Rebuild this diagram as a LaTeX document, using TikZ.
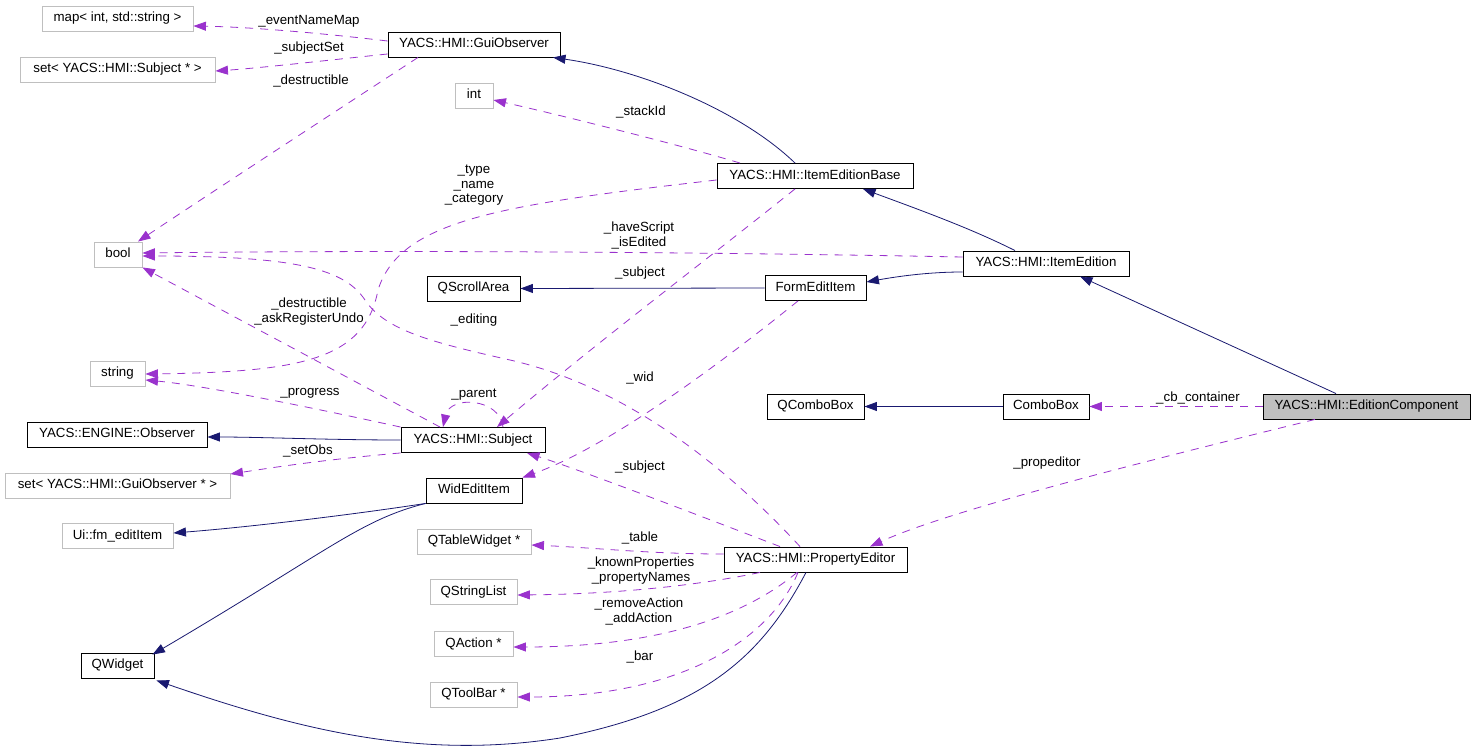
\documentclass[tikz,border=0pt]{standalone}
\usepackage{fontspec}
\setmainfont{Liberation Sans}
\usetikzlibrary{arrows.meta,calc}
\definecolor{inhc}{HTML}{191970}
\definecolor{depc}{HTML}{9A32CD}
\definecolor{grayb}{HTML}{BFBFBF}
\definecolor{fillc}{HTML}{BFBFBF}
\begin{document}
\begin{tikzpicture}[x=1pt,y=-1pt,
  every node/.style={font=\fontsize{13.3}{14.5}\selectfont, inner sep=0pt},
  cls/.style={draw=black, line width=0.9pt, minimum height=25pt, text height=9.5pt, text depth=2.8pt, align=center},
  ext/.style={cls, draw=grayb},
  lbl/.style={align=center},
  inh/.style={draw=inhc, line width=0.8pt, -{Triangle[length=12.5pt,width=9pt]}},
  dep/.style={draw=depc, line width=0.8pt, dash pattern=on 8pt off 7pt, -{Triangle[length=12.5pt,width=9pt]}}]
\useasboundingbox (0,0) rectangle (1475,751);
\fill[white] (0,0) rectangle (1475,751);

% nodes
\node[ext, minimum width=151pt] (map) at (117.5,18.5) {map< int, std::string >};
\node[ext, minimum width=195pt] (setS) at (117.5,69.5) {set< YACS::HMI::Subject * >};
\node[cls, minimum width=172pt] (gui) at (474,44.5) {YACS::HMI::GuiObserver};
\node[ext, minimum width=38pt] (int) at (474,95.5) {int};
\node[ext, minimum width=48pt] (bool) at (118,254.5) {bool};
\node[cls, minimum width=196pt] (ieb) at (815,176) {YACS::HMI::ItemEditionBase};
\node[cls, minimum width=166pt] (ie) at (1046,263.5) {YACS::HMI::ItemEdition};
\node[cls, minimum width=93pt] (qsa) at (473.5,288.5) {QScrollArea};
\node[cls, minimum width=101pt] (fei) at (815.5,288) {FormEditItem};
\node[ext, minimum width=55pt] (str) at (117.5,373.5) {string};
\node[cls, minimum width=180pt] (obs) at (117,434.5) {YACS::ENGINE::Observer};
\node[cls, minimum width=144pt] (subj) at (473,440) {YACS::HMI::Subject};
\node[ext, minimum width=225pt] (setG) at (117.5,485.5) {set< YACS::HMI::GuiObserver * >};
\node[cls, minimum width=96pt] (wid) at (474,490.5) {WidEditItem};
\node[cls, minimum width=97pt] (qcb) at (815.5,406.5) {QComboBox};
\node[cls, minimum width=86pt] (cb) at (1046,406.5) {ComboBox};
\node[cls, fill=fillc, minimum width=207pt] (ec) at (1366.5,406.5) {YACS::HMI::EditionComponent};
\node[ext, minimum width=111pt] (fm) at (117.5,536) {Ui::fm\_editItem};
\node[ext, minimum width=114pt] (qtw) at (474,541.5) {QTableWidget *};
\node[cls, minimum width=183pt] (pe) at (815.5,559.5) {YACS::HMI::PropertyEditor};
\node[ext, minimum width=87pt] (qsl) at (473.5,592) {QStringList};
\node[ext, minimum width=79pt] (qa) at (473.5,644) {QAction *};
\node[cls, minimum width=73pt] (qw) at (117.5,665.5) {QWidget};
\node[ext, minimum width=87pt] (qtb) at (473.5,694.5) {QToolBar *};

% connectors
\draw[dep] ($(gui.west)+(0,-3.5)$) .. controls (320,33) and (250,27) .. ($(map.east)+(0,7.5)$);
\draw[dep] ($(gui.west)+(0,9.5)$) .. controls (330,60) and (260,68) .. ($(setS.east)+(0,1.5)$);
\draw[dep] ($(gui.south)+(-56,0)$) .. controls (330,115) and (200,200) .. ($(bool.north)+(20,0)$);
\draw[inh] ($(ieb.north)+(-20,0)$) .. controls (740,110) and (640,70) .. ($(gui.south)+(79,0)$);
\draw[dep] ($(ieb.north)+(-75,0)$) .. controls (680,145) and (560,115) .. ($(int.east)+(0,4.5)$);
\draw[dep] ($(ieb.west)+(0,4)$) .. controls (500,205) and (400,220) .. (378,290) .. controls (365,360) and (300,372) .. ($(str.east)+(0,0.5)$);
\draw[inh] ($(ie.north)+(-31,0)$) .. controls (970,228) and (920,210) .. ($(ieb.south)+(48,0)$);
\draw[dep] ($(ie.west)+(0,-6.5)$) .. controls (700,252) and (400,250) .. ($(bool.east)+(0,-1.5)$);
\draw[inh] ($(ie.west)+(0,8.5)$) .. controls (930,272) and (900,276) .. ($(fei.east)+(0,-6)$);
\draw[inh] (fei.west) -- (qsa.east);
\draw[dep] ($(fei.south)+(-17.5,0)$) .. controls (700,380) and (600,450) .. (wid.north east);
\draw[dep] ($(ieb.south)+(-20,0)$) .. controls (700,265) and (600,340) .. ($(subj.north)+(24,0)$);
\draw[dep] ($(subj.north)+(-33,0)$) -- (bool.south east);
\draw[dep] ($(subj.north)+(30,0)$) .. controls (500,398) and (450,395) .. ($(subj.north)+(-30,0)$);
\draw[dep] (subj.north west) .. controls (300,405) and (200,385) .. ($(str.east)+(0,6.5)$);
\draw[inh] (subj.west) .. controls (330,440) and (260,437) .. ($(obs.east)+(0,2.5)$);
\draw[dep] (subj.south west) .. controls (320,460) and (270,468) .. ($(setG.east)+(0,-11.5)$);
\draw[inh] (wid.south west) .. controls (350,515) and (250,527) .. ($(fm.east)+(0,-3)$);
\draw[inh] (wid.south west) .. controls (360,520) and (330,550) .. ($(qw.north east)+(-2,2)$);
\draw[inh] ($(pe.south)+(-9.5,0)$) .. controls (760,660) and (700,710) .. (560,738) .. controls (420,760) and (300,730) .. ($(qw.south east)+(2,2)$);
\draw[dep] ($(pe.north)+(-35.5,0)$) .. controls (690,512) and (580,470) .. ($(subj.south)+(54,0)$);
\draw[dep] ($(pe.north)+(-15.5,0)$) .. controls (720,460) and (620,385) .. (510,360) .. controls (430,342) and (385,330) .. (365,300) .. controls (345,270) and (300,256) .. ($(bool.east)+(0,1.5)$);
\draw[dep] ($(pe.west)+(0,-5.5)$) .. controls (650,554) and (600,548) .. ($(qtw.east)+(0,3.5)$);
\draw[dep] ($(pe.south)+(-55.5,0)$) .. controls (700,585) and (620,594) .. ($(qsl.east)+(0,3)$);
\draw[dep] ($(pe.south)+(-18.5,0)$) .. controls (740,620) and (650,647) .. ($(qa.east)+(0,3)$);
\draw[dep] ($(pe.south)+(-17.5,0)$) .. controls (770,640) and (680,697) .. ($(qtb.east)+(0,2.5)$);
\draw[dep] (ec.west) -- (cb.east);
\draw[inh] (cb.west) -- (qcb.east);
\draw[inh] ($(ec.north)+(-30.5,0)$) -- ($(ie.south)+(34,0)$);
\draw[dep] ($(ec.south)+(-51.5,0)$) .. controls (1150,460) and (950,510) .. ($(pe.north)+(54.5,0)$);

% labels
\node[lbl] (l1) at (309,21) {\_eventNameMap};
\node[lbl] (l2) at (309,48) {\_subjectSet};
\node[lbl] (l3) at (311,81) {\_destructible};
\node[lbl] (l4) at (641,112) {\_stackId};
\node[lbl] (l5) at (474,185.5) {\_type\\\_name\\\_category};
\node[lbl] (l6) at (639,235.5) {\_haveScript\\\_isEdited};
\node[lbl] (l7) at (640,273) {\_subject};
\node[lbl] (l8) at (309,311.5) {\_destructible\\\_askRegisterUndo};
\node[lbl] (l9) at (474,320) {\_editing};
\node[lbl] (l10) at (640,378) {\_wid};
\node[lbl] (l11) at (310,393) {\_progress};
\node[lbl] (l12) at (474,395) {\_parent};
\node[lbl] (l13) at (1198,398) {\_cb\_container};
\node[lbl] (l14) at (308,451) {\_setObs};
\node[lbl] (l15) at (1047,463) {\_propeditor};
\node[lbl] (l16) at (640,467) {\_subject};
\node[lbl] (l17) at (640,538) {\_table};
\node[lbl] (l18) at (641,570.5) {\_knownProperties\\\_propertyNames};
\node[lbl] (l19) at (639,611.5) {\_removeAction\\\_addAction};
\node[lbl] (l20) at (640,657) {\_bar};
\end{tikzpicture}
\end{document}
